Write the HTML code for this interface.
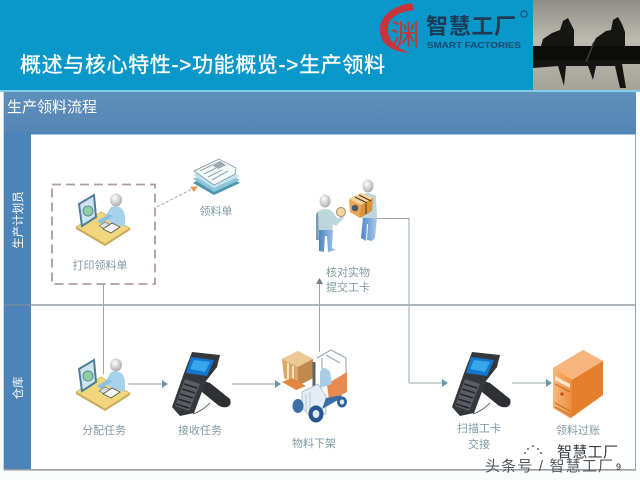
<!DOCTYPE html>
<html lang="zh">
<head>
<meta charset="utf-8">
<title>生产领料流程</title>
<style>
html,body{margin:0;padding:0;background:#fbfdfd;width:640px;height:480px;overflow:hidden}
svg{display:block;filter:blur(.35px)}
text{font-family:"Liberation Sans","Noto Sans CJK SC",sans-serif}
</style>
</head>
<body>
<svg xmlns="http://www.w3.org/2000/svg" width="640" height="480" viewBox="0 0 640 480">
<defs>
  <linearGradient id="photo" x1="0" y1="0" x2="0" y2="1">
    <stop offset="0" stop-color="#8f8d85"/><stop offset=".45" stop-color="#bdbbb2"/><stop offset="1" stop-color="#a5a399"/>
  </linearGradient>
  <linearGradient id="band" x1="0" y1="0" x2="0" y2="1">
    <stop offset="0" stop-color="#5f8fbb"/><stop offset="1" stop-color="#5585b3"/>
  </linearGradient>
  <linearGradient id="leg" x1="0" y1="0" x2="1" y2="0">
    <stop offset="0" stop-color="#4f86c4"/><stop offset="1" stop-color="#a9cbea"/>
  </linearGradient>
  <linearGradient id="srv" x1="0" y1="0" x2="1" y2="0">
    <stop offset="0" stop-color="#f7b77c"/><stop offset="1" stop-color="#ee8d40"/>
  </linearGradient>
  <radialGradient id="head" cx=".4" cy=".35" r=".7">
    <stop offset="0" stop-color="#ffffff"/><stop offset="1" stop-color="#a8a8a8"/>
  </radialGradient>
  <g id="desk">
    <path d="M-27 12 L-2 -3 L27 13 L2 29 Z" fill="#f0d67c" stroke="#d2b45e" stroke-width=".8"/>
    <path d="M-27 12 L2 29 L27 13 L27 15 L2 31 L-27 14 Z" fill="#c9a95a"/>
    <path d="M-24 -11 L-9 -20 L-7 2 L-21 11 Z" fill="#cfe3ec" stroke="#4d7f9c" stroke-width="2"/>
    <circle cx="-15" cy="-4" r="5" fill="#8fcf9f" stroke="#4d7f9c" stroke-width=".8"/>
    <path d="M2 2 L8 -8 Q20 -11 22 1 L22 12 L8 8 Z" fill="#a6d2ec"/>
    <path d="M-6 6 L6 -1 L10 1 L-2 9 Z" fill="#8cbfe0"/>
    <path d="M-4 11 L2 7 L8 10 L2 14 Z" fill="#d7dde0" stroke="#6a6a6a" stroke-width=".6"/>
    <path d="M0 14 L9 8 L17 12 L8 18 Z" fill="#f7f7f7" stroke="#555" stroke-width=".8"/>
    <ellipse cx="13" cy="-15" rx="6" ry="6.5" fill="url(#head)"/>
  </g>
  <g id="scan">
    <path d="M32 30 L38 32 L58 48 Q60 54 55 56 Q50 57 46 54 L30 41 Z" fill="#2e3033"/>
    <path d="M20 1 L48 4 L45 16 L34 30 L22 62 L8 65 L0 56 L12 22 Z" fill="#34373b"/>
    <path d="M19 6 L42 9 L35 25 L14 22 Z" fill="#1477cf"/>
    <path d="M22 9 L38 11 L33 21 L18 18 Z" fill="#38a6e8"/>
    <path d="M13 28 L28 33 L17 60 L3 55 Z" fill="#5a5e63"/>
    <path d="M12 33 L25 37 M10 38 L23 42 M8 43 L21 47 M6 48 L19 52 M4 53 L17 57" stroke="#23262a" stroke-width="1.5"/>
    <path d="M21 63 Q30 60 38 52" fill="none" stroke="#666" stroke-width="1"/>
  </g>
</defs>

<!-- page -->
<rect width="640" height="480" fill="#fbfdfd"/>
<!-- header -->
<rect width="640" height="91" fill="#0a97c9"/>
<rect x="0" y="90" width="640" height="2" fill="#7fd0e6"/>

<!-- logo -->
<path d="M412 3 C392 6 380 16 380 30 C380 44 392 52 410 53 C396 48 387 40 388 28 C389 16 400 12 414 10 Z" fill="#c7343a"/>
<text x="405" y="45" font-size="29" fill="#c7343a" text-anchor="middle">渊</text>
<text x="426" y="34" font-size="22" font-weight="bold" fill="#1e3a54" textLength="90" lengthAdjust="spacing">智慧工厂</text>
<text x="427" y="48" font-size="8.5" font-weight="bold" fill="#1d4a70" textLength="94" lengthAdjust="spacingAndGlyphs">SMART FACTORIES</text>
<circle cx="524" cy="14" r="3.2" fill="none" stroke="#1e3a54" stroke-width=".8"/>

<!-- photo -->
<rect x="533" y="0" width="107" height="90" fill="url(#photo)"/>
<rect x="533" y="46" width="107" height="15" fill="#0c0c0a"/>
<path d="M533 60 H640 V64 L622 64 L626 88 L620 88 L615 66 L596 66 L593 80 L588 66 L566 66 L564 86 L558 66 L533 68 Z" fill="#141412"/>
<!-- rowers -->
<path d="M541 46 L543 39 L552 33 L560 30 L563 21 L568 18 L571 24 L574 30 L574 46 Z" fill="#151513"/>
<path d="M592 46 L596 38 L606 31 L611 30 L613 20 L618 17 L622 24 L625 32 L625 46 Z" fill="#151513"/>
<path d="M594 42 L586 62" stroke="#3a3a36" stroke-width="1.6"/>

<text x="20" y="72" font-size="21" fill="#ffffff" stroke="#ffffff" stroke-width=".35" textLength="365" lengthAdjust="spacing">概述与核心特性-&gt;功能概览-&gt;生产领料</text>

<!-- panel -->
<rect x="3" y="92" width="633" height="41" fill="url(#band)"/>
<text x="7" y="112" font-size="15" fill="#ffffff">生产领料流程</text>
<rect x="31" y="134" width="604" height="335" fill="#ffffff"/>
<rect x="4" y="132" width="27" height="338" fill="#4d84b8"/>
<rect x="4" y="132" width="631" height="2.5" fill="#4d84b8"/>
<path d="M635.5 132 V470" stroke="#9aa4ad" stroke-width="1"/>
<rect x="4" y="469" width="632" height="1.6" fill="#9a9ea3"/>
<path d="M4 305 H635" stroke="#7d8c98" stroke-width="1.2"/>
<path d="M3.5 92 V470" stroke="#c5d5e2" stroke-width="1"/>

<text transform="translate(22,220) rotate(-90)" font-size="11.5" fill="#ffffff" text-anchor="middle">生产计划员</text>
<text transform="translate(22,388) rotate(-90)" font-size="11.5" fill="#ffffff" text-anchor="middle">仓库</text>

<!-- dashed box -->
<path d="M52 184.5 H155 V284 H52 Z" fill="none" stroke="#b09aa2" stroke-width="1.8" stroke-dasharray="9 5"/>

<!-- connectors -->
<g fill="none" stroke="#9aa7ad" stroke-width="1">
  <path d="M103.5 284 V374"/>
  <path d="M319.5 352 V282"/>
  <path d="M377 218.5 H409 V383 H444"/>
</g>
<g fill="none" stroke="#a8b8bc" stroke-width="1.2">
  <path d="M128 384 H164"/>
  <path d="M232 384 H276"/>
  <path d="M512 383 H547"/>
</g>
<path d="M157 207 L194 188" fill="none" stroke="#b8b0a8" stroke-width="1.2" stroke-dasharray="3 2"/>
<path d="M198 186 L190 187 L194 192 Z" fill="#e09a55"/>
<g fill="#6a98a8">
  <path d="M168 384 L162 380 V388 Z"/>
  <path d="M281 384 L275 380 V388 Z"/>
  <path d="M448 383 L442 379 V387 Z"/>
  <path d="M552 383 L546 379 V387 Z"/>
  <path d="M319.5 278 L316 284 H323 Z" fill="#6e8388"/>
</g>

<!-- document stack -->
<g>
  <path d="M193 183 L216 170 L240 183 L214 195 Z" fill="#4f95ad"/>
  <path d="M193 179 L216 167 L240 180 L214 192 Z" fill="#8cc5d8"/>
  <path d="M193 175 L216 163 L240 176 L214 188 Z" fill="#c5e3ec"/>
  <path d="M194 171 L219 159 L236 168 L235 174 L214 185 Z" fill="#f3f8f9" stroke="#6a8d9a" stroke-width=".7"/>
  <path d="M212 165 L220 161 L226 165 L218 169 Z" fill="#9aa9ae"/>
  <path d="M200 171 L212 165 M204 174 L216 168 M208 177 L222 170 M212 180 L228 171" stroke="#7b939c" stroke-width=".9"/>
</g>

<!-- desk persons -->
<use href="#desk" x="103" y="215"/>
<use href="#desk" x="103" y="380"/>

<!-- left person -->
<g>
  <path d="M317 212 Q325 206 333 212 L338 219 L342 214 L344 218 L336 226 L333 224 L332 232 L317 232 Z" fill="#bcd6dc"/>
  <path d="M316 214 L318 212 L319 240 L316 240 Z" fill="#7d9cb0"/>
  <path d="M319 230 L333 230 L332 248 L336 250 L328 252 L327 236 L325 236 L324 252 L319 251 Z" fill="url(#leg)"/>
  <ellipse cx="325" cy="201" rx="5.5" ry="6.5" fill="url(#head)"/>
  <circle cx="341" cy="212" r="4.5" fill="#ecd6a6" stroke="#b08a50" stroke-width="1"/>
</g>
<!-- right person -->
<g>
  <path d="M361 195 Q368 191 376 196 L377 219 L362 219 Z" fill="#bcd6dc"/>
  <path d="M363 218 L377 218 L375 238 L372 241 L367 240 L368 224 L367 224 L366 241 L361 238 Z" fill="url(#leg)"/>
  <ellipse cx="368" cy="186" rx="5.5" ry="6.5" fill="url(#head)"/>
</g>
<!-- carton -->
<path d="M349 199 L361 193 L373 198 L372 211 L360 218 L350 212 Z" fill="#eda84f"/>
<path d="M349 199 L361 193 L373 198 L361 205 Z" fill="#f6d39a"/>
<path d="M361 205 L373 198 L372 211 L360 218 Z" fill="#d99343"/>
<circle cx="355" cy="208" r="3.3" fill="#4a5a66"/>
<path d="M355 197 L367 203 M359 195 L371 201 M366 204 V214" stroke="#4a3a20" stroke-width="1"/>

<!-- scanners -->
<use href="#scan" x="172" y="351"/>
<use href="#scan" x="452" y="351"/>

<!-- forklift -->
<g>
  <path d="M282 359 L298 351 L313 359 L313 378 L298 386 L284 378 Z" fill="#d9a766"/>
  <path d="M282 359 L298 351 L313 359 L298 367 Z" fill="#ecc993"/>
  <path d="M298 367 L313 359 L313 378 L298 386 Z" fill="#c08a4c"/>
  <path d="M288 363 V381 M293 366 V384" stroke="#fff2d8" stroke-width="1.6"/>
  <path d="M282 382 L296 390 L306 386 L292 378 Z" fill="#e2873f"/>
  <path d="M314 362 V394" stroke="#5c6268" stroke-width="3"/>
  <path d="M317 358 L331 350 L346 358 L346 385 M322 358 L322 380 M326 355 L340 363" fill="none" stroke="#9aa7ad" stroke-width="1.1"/>
  <path d="M327 384 L347 372 L347 392 L329 401 Z" fill="#e78a4f"/>
  <path d="M320 372 Q324 364 330 372 L332 384 L320 388 Z" fill="#a8cde4"/>
  <path d="M302 392 L318 384 L326 396 L326 414 L310 416 L302 408 Z" fill="#e4edf3" stroke="#aab8c2" stroke-width=".8"/>
  <path d="M306 394 V412 M310 392 V414" stroke="#b8c8d4" stroke-width="1"/>
  <ellipse cx="298" cy="406" rx="5.5" ry="7" fill="#3c6ea6"/>
  <path d="M322 409 L340 399 L342 395 L326 398 Z" fill="#3c6ea6"/>
  <ellipse cx="316" cy="414" rx="7.5" ry="8.5" fill="#27568f"/>
  <ellipse cx="316" cy="414" rx="3.4" ry="4" fill="#dfe9f2"/>
  <ellipse cx="342" cy="402" rx="5" ry="5.5" fill="#2f629b"/>
  <ellipse cx="342" cy="402" rx="2.2" ry="2.6" fill="#dfe9f2"/>
</g>

<!-- server -->
<g>
  <path d="M553 368 L583 350 L603 361 L603 395 L570 418 L553 408 Z" fill="#ee9448"/>
  <path d="M553 368 L583 350 L603 361 L572 380 Z" fill="#f7b47c"/>
  <path d="M553 368 L572 380 L571 418 L553 408 Z" fill="url(#srv)"/>
  <path d="M572 380 L603 361 L603 395 L571 418 Z" fill="#e57f2c"/>
  <path d="M555 376 L570 384 L570 388 L555 380 Z" fill="#f8e7d3"/>
  <path d="M555 384 L570 392 M555 407 L570 415 M555 403 L570 411" stroke="#c96d25" stroke-width="1"/>
  <circle cx="562" cy="394" r="1.6" fill="#b34f14"/>
</g>

<!-- labels -->
<g font-size="11" fill="#7f9aa3" text-anchor="middle">
  <text x="100" y="269">打印领料单</text>
  <text x="216" y="215">领料单</text>
  <text x="348" y="276">核对实物</text>
  <text x="348" y="291">提交工卡</text>
  <text x="104" y="434">分配任务</text>
  <text x="200" y="434">接收任务</text>
  <text x="314" y="447">物料下架</text>
  <text x="479" y="432">扫描工卡</text>
  <text x="479" y="448">交接</text>
  <text x="578" y="434">领料过账</text>
</g>

<!-- watermark -->
<text x="557" y="457" font-size="15" fill="#33383c" textLength="61" lengthAdjust="spacing">智慧工厂</text>
<text x="485" y="471" font-size="15" fill="#55595c" textLength="128" lengthAdjust="spacing">头条号 / 智慧工厂</text>
<text x="616" y="470" font-size="9" fill="#222">9</text>
<g fill="#666">
  <circle cx="528" cy="449" r="1"/><circle cx="533" cy="446" r="1"/><circle cx="538" cy="449" r="1"/><circle cx="541" cy="453" r="1"/><circle cx="525" cy="453" r="1"/>
</g>
</svg>
</body>
</html>
